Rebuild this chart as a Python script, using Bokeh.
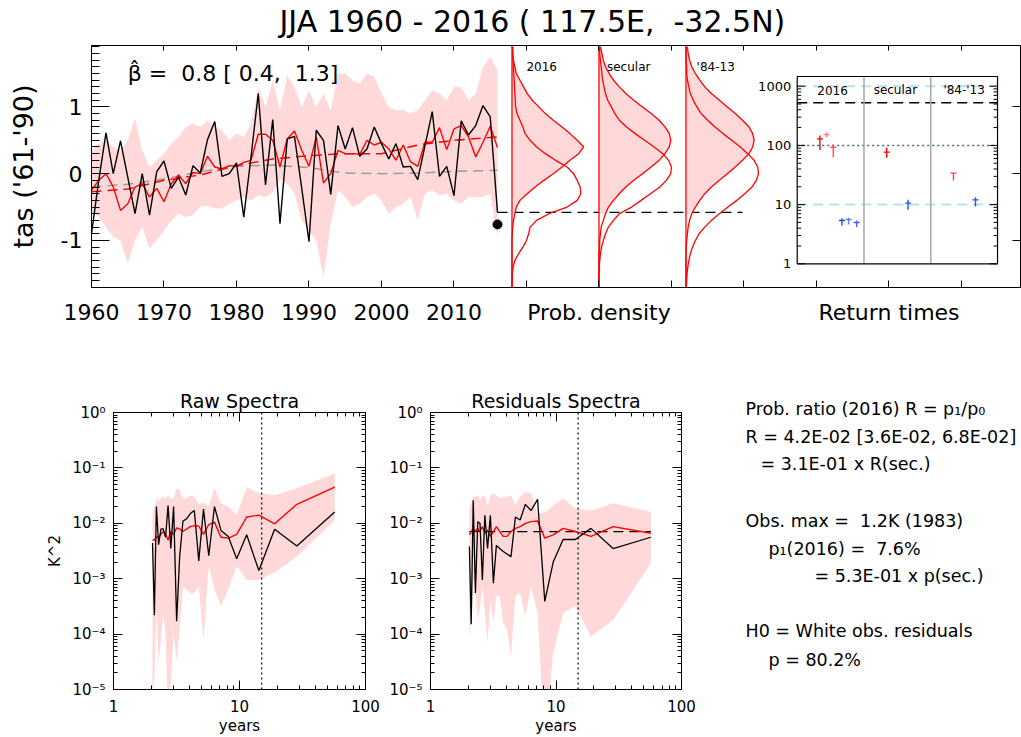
import numpy as np
from bokeh.plotting import figure
from bokeh.models import (Range1d, LinearAxis, LogAxis, FixedTicker, LogScale, Span, Title)
from bokeh.layouts import column, row
from bokeh.embed import file_html
from bokeh.resources import INLINE
from bokeh.core.properties import value

FONT = "DejaVu Sans"
PINK = "#ffd9d9"
RED = "#ff0000"
NB = "\u00a0"

# ---------------- data: time series ----------------
years = list(range(1960, 2017))
obs = [-0.9, -0.1, 0.61, 0.0, 0.49, -0.05, -0.6, 0.0, -0.62, 0.03,
       0.19, -0.22, -0.05, -0.32, 0.12, 0.01, 0.51, 0.78, -0.04, 0.0,
       0.16, -0.65, 0.25, 1.2, -0.17, 0.81, -0.75, 0.52, 0.56, -0.22,
       -1.02, 0.65, 0.5, -0.31, 0.72, 0.37, 0.69, 0.26, 0.37, 0.7,
       0.45, 0.22, 0.45, 0.1, 0.11, -0.09, 0.42, 0.93, -0.04, 0.11,
       -0.33, 0.79, 0.58, 0.72, 1.02, 0.85, -0.58]
model = [-0.25, -0.1, 0.0, -0.2, -0.55, -0.45, -0.2, -0.15, -0.35, -0.22,
         -0.42, -0.15, -0.02, -0.15, 0.02, 0.0, 0.26, 0.1, 0.07, 0.12,
         0.11, 0.17, 0.2, 0.59, 0.59, 0.5, 0.1, 0.52, 0.64, 0.35,
         0.11, 0.55, -0.14, 0.0, 0.35, 0.3, 0.3, 0.29, 0.5, 0.43,
         0.47, 0.37, 0.2, 0.43, 0.18, 0.11, 0.47, 0.47, 0.69, 0.36,
         0.67, 0.72, 0.55, 0.25, 0.47, 0.71, 0.39]
band_hi = [0.33, 0.45, 0.5, 0.4, 0.35, 0.5, 0.83, 0.35, 0.1, 0.2,
           0.3, 0.45, 0.55, 0.7, 0.75, 0.7, 0.8, 0.7, 0.65, 0.5,
           0.6, 0.55, 0.75, 1.3, 1.0, 1.4, 0.95, 1.47, 1.3, 1.0,
           1.25, 1.0, 1.2, 0.95, 1.5, 1.5, 1.4, 1.35, 1.5, 1.45,
           1.2, 1.0, 0.95, 0.95, 0.9, 0.95, 1.1, 1.25, 1.2, 1.1,
           1.3, 1.3, 1.1, 1.2, 1.6, 1.75, 1.55]
band_lo = [-0.55, -0.65, -0.8, -0.95, -1.0, -1.35, -1.0, -0.8, -1.12, -1.0,
           -0.85, -0.7, -0.6, -0.65, -0.62, -0.5, -0.48, -0.52, -0.52, -0.45,
           -0.4, -0.35, -0.4, -0.32, -0.35, -0.28, -0.1, -0.15, -0.3, -0.7,
           -0.85, -1.0, -1.55, -0.75, -0.25, -0.35, -0.5, -0.45, -0.35, -0.3,
           -0.4, -0.6, -0.5, -0.45, -0.35, -0.7, -0.3, -0.25, -0.33, -0.3,
           -0.4, -0.45, -0.35, -0.35, -0.35, -0.3, -0.95]
trend_years = [1960, 1965, 1970, 1975, 1980, 1985, 1990, 1995, 2000, 2005, 2010, 2016]
trend_red = [-0.27, -0.23, -0.1, -0.02, 0.12, 0.22, 0.27, 0.3, 0.3, 0.43, 0.5, 0.55]
trend_gray = [-0.2, -0.16, -0.08, 0.03, 0.11, 0.13, 0.09, 0.01, 0.0, 0.01, 0.035, 0.05]
threshold_2016 = -0.58
dot_2016 = -0.76

# ---------------- data: densities (width in years vs anomaly) ----------------
dens_levels = [-1.7, -1.6, -1.5, -1.4, -1.3, -1.2, -1.1, -1.0, -0.9, -0.8,
               -0.7, -0.6, -0.5, -0.4, -0.3, -0.2, -0.1, 0.0, 0.1, 0.2,
               0.3, 0.4, 0.5, 0.6, 0.7, 0.8, 0.9, 1.0, 1.1, 1.2,
               1.3, 1.4, 1.5, 1.6, 1.7, 1.8, 1.9]
d2016_now = [0, 0, 0, 0, 0, 0, 0, 0.0, 0.05, 0.1,
             0.2, 0.4, 0.6, 1.1, 2.1, 3.2, 4.4, 5.7, 6.9, 8.0,
             9.2, 9.9, 9.0, 8.0, 6.9, 5.7, 4.6, 3.7, 2.8, 2.1,
             1.6, 1.1, 0.6, 0.4, 0.2, 0.1, 0.1]
d2016_nat = [0, 0.05, 0.05, 0.15, 0.4, 0.9, 1.5, 2.0, 2.3, 2.5,
             3.4, 5.1, 7.6, 9.0, 9.5, 9.4, 9.0, 8.5, 7.6, 6.0,
             4.6, 3.4, 2.5, 1.8, 1.5, 1.1, 0.7, 0.5, 0.45, 0.4,
             0.35, 0.3, 0.25, 0.2, 0.15, 0.1, 0.05]
dsec_now = [0, 0, 0, 0, 0, 0.0, 0.1, 0.1, 0.2, 0.3,
            0.6, 0.9, 1.3, 2.0, 2.8, 3.7, 4.8, 6.0, 7.2, 8.3,
            9.1, 9.7, 9.9, 9.7, 9.1, 8.3, 7.2, 6.0, 4.8, 3.7,
            2.8, 2.0, 1.4, 0.9, 0.6, 0.4, 0.2]
dsec_nat = [0, 0, 0, 0.05, 0.1, 0.2, 0.35, 0.6, 0.9, 1.3,
            2.0, 2.8, 4.5, 5.8, 7.1, 8.4, 9.3, 9.9, 10.0, 9.6,
            8.8, 7.6, 6.3, 5.0, 3.8, 2.8, 2.2, 1.7, 1.2, 0.9,
            0.7, 0.5, 0.4, 0.3, 0.2, 0.1, 0.1]
d8413_now = [0, 0, 0, 0, 0, 0, 0.05, 0.1, 0.2, 0.3,
             0.5, 0.8, 1.3, 1.9, 2.6, 3.5, 4.6, 5.7, 6.8, 7.8,
             8.7, 9.2, 9.4, 9.2, 8.7, 7.8, 6.8, 5.7, 4.6, 3.5,
             2.6, 1.9, 1.3, 0.8, 0.5, 0.3, 0.2]
d8413_nat = [0.05, 0.1, 0.15, 0.25, 0.4, 0.6, 0.9, 1.3, 1.8, 2.6,
             3.5, 4.6, 5.8, 7.0, 8.1, 9.1, 9.7, 10.0, 9.9, 9.4,
             8.5, 7.5, 6.3, 5.1, 4.0, 3.0, 2.1, 1.5, 1.0, 0.6,
             0.4, 0.2, 0.1, 0.1, 0.0, 0.0, 0.0]
dens_labels = ["2016", "secular", "'84-13"]

# ---------------- data: return times ----------------
rt_labels = ["2016", "secular", "'84-'13"]
rt_red_x = [0.34, 0.44, 0.54, 1.34, 2.34]
rt_red_best = [129, 152, 93, 77, 34]
rt_red_lo = [84, 137, 63, 62, 25.5]
rt_red_hi = [147, 167, 104, 91, 34]
rt_red_col = ["#ff0000", "#ff7a7a", "#ff5050", "#ff0000", "#ff4040"]
rt_blue_x = [0.67, 0.77, 0.89, 1.66, 2.67]
rt_blue_best = [5.4, 5.6, 5.0, 10.6, 12.0]
rt_blue_lo = [4.4, 4.6, 4.2, 8.2, 9.3]
rt_blue_hi = [5.9, 6.0, 5.4, 12.1, 13.3]
rt_blue_col = ["#2050ff", "#6080ff", "#4060ff", "#2050ff", "#2050ff"]
rt_obs_line = 525
rt_ref_lines = [10, 1000]
rt_dot_line = 100

# ---------------- data: spectra ----------------
periods = [57.0, 28.5, 19.0, 14.25, 11.4, 9.5, 8.14, 7.13, 6.33, 5.7,
           5.18, 4.75, 4.38, 4.07, 3.8, 3.56, 3.35, 3.17, 3.0, 2.85,
           2.71, 2.59, 2.48, 2.38, 2.28, 2.19, 2.11, 2.04]
raw_obs = [1.6e-2, 3.9e-3, 7.8e-3, 1.4e-3, 6.2e-3, 2.3e-3, 5.8e-3, 7.4e-3, 2.0e-2, 2.6e-3,
           1.8e-2, 2.1e-3, 1.7e-2, 1.5e-2, 1.2e-2, 1.1e-2, 2.5e-3, 1.7e-4, 2.0e-2, 3.5e-3,
           2.1e-2, 5.6e-3, 7.9e-3, 7.9e-3, 4.1e-3, 2.0e-2, 2.2e-4, 4.4e-3]
raw_model = [4.5e-2, 2.2e-2, 9.8e-3, 1.4e-2, 1.3e-2, 6.3e-3, 5.4e-3, 5.6e-3, 1.05e-2, 9.5e-3,
             6.3e-3, 8.9e-3, 9.1e-3, 8.7e-3, 7.9e-3, 7.1e-3, 7.9e-3, 8.3e-3, 6.3e-3, 7.1e-3,
             5.0e-3, 6.3e-3, 7.1e-3, 6.3e-3, 5.6e-3, 5.6e-3, 5.0e-3, 5.0e-3]
raw_hi = [0.079, 0.043, 0.032, 0.035, 0.045, 0.014, 0.020, 0.023, 0.043, 0.020,
          0.024, 0.022, 0.030, 0.032, 0.028, 0.028, 0.040, 0.043, 0.028, 0.028,
          0.032, 0.028, 0.030, 0.028, 0.025, 0.028, 0.018, 0.016]
raw_lo = [1.15e-2, 2.5e-3, 1.3e-3, 9.5e-4, 9.5e-4, 1.7e-3, 6.3e-4, 3.2e-4, 6.3e-4, 1.7e-3,
          7.9e-5, 7.2e-4, 5.5e-4, 5.5e-4, 6.3e-4, 7.2e-4, 1.2e-4, 3.2e-5, 1.05e-4, 1.6e-5,
          3e-6, 1e-4, 2.5e-4, 8e-5, 3e-5, 2.5e-4, 1.5e-5, 8e-6]
res_obs = [5.6e-3, 3.5e-3, 8.1e-3, 5.1e-3, 5.1e-3, 2.0e-3, 3.9e-4, 2.7e-2, 1.7e-2, 2.2e-2,
           1.15e-2, 1.3e-2, 2.5e-3, 2.8e-3, 3.1e-3, 3.5e-3, 4.0e-3, 8.3e-4, 1.4e-2, 3.5e-3,
           1.4e-2, 9.5e-4, 1.0e-2, 1.07e-2, 5.5e-4, 2.6e-2, 1.5e-4, 3.8e-3]
res_model = [6.6e-3, 8.7e-3, 5.8e-3, 7.1e-3, 8.1e-3, 6.2e-3, 5.4e-3, 1.1e-2, 1.07e-2, 1.0e-2,
             8.7e-3, 8.1e-3, 7.1e-3, 5.8e-3, 5.8e-3, 7.1e-3, 8.7e-3, 7.1e-3, 5.8e-3, 7.6e-3,
             6.6e-3, 8.7e-3, 7.1e-3, 8.1e-3, 7.1e-3, 8.1e-3, 7.1e-3, 6.2e-3]
res_hi = [1.6e-2, 2.3e-2, 1.7e-2, 1.85e-2, 2.8e-2, 2.1e-2, 1.55e-2, 1.5e-2, 3.5e-2, 3.7e-2,
          3.0e-2, 2.1e-2, 3.2e-2, 3.0e-2, 3.0e-2, 2.8e-2, 3.2e-2, 3.5e-2, 3.2e-2, 2.0e-2,
          3.2e-2, 3.0e-2, 2.6e-2, 3.2e-2, 3.0e-2, 3.0e-2, 2.3e-2, 2.0e-2]
res_lo = [1.9e-3, 1.8e-4, 9e-5, 3.2e-4, 2.4e-4, 4.5e-5, 1e-6, 2.4e-4, 7.2e-4, 2.1e-4,
          5.5e-4, 4.8e-4, 4e-5, 1.2e-4, 1.6e-4, 4.8e-4, 4.8e-4, 1.6e-4, 4.0e-4, 7e-5,
          2.4e-4, 7.2e-4, 3.0e-4, 1.8e-4, 5.5e-4, 9.5e-4, 2.4e-4, 8e-5]
res_white = 7.1e-3
cutoff_period = 15

# ---------------- text ----------------
title_text = "JJA 1960 - 2016 ( 117.5E," + NB + " -32.5N)"
beta_text = "\u03b2\u0302 =" + NB + " 0.8 [ 0.4," + NB + " 1.3]"
info_head = "Prob. ratio (2016) R = p\u2081/p\u2080"
info_lines = ["R = 4.2E-02 [3.6E-02, 6.8E-02]",
              "= 3.1E-01 x R(sec.)",
              "Obs. max =" + NB + " 1.2K (1983)",
              "p\u2081(2016) =" + NB + " 7.6%",
              "= 5.3E-01 x p(sec.)",
              "H0 = White obs. residuals",
              "p = 80.2%"]
info_x = [745, 760, 745, 768, 814, 745, 768]
info_y = [437, 464, 521, 549, 576, 631, 660]


def blank(ticks):
    return {t: "" for t in ticks}


# =============== title strip ===============
tf = figure(width=1021, height=45, x_range=Range1d(91, 1021), y_range=Range1d(45, 0),
            x_axis_location=None, y_axis_location=None, output_backend="svg",
            toolbar_location=None, min_border_left=91, min_border_right=0,
            min_border_top=0, min_border_bottom=0)
tf.grid.visible = False
tf.outline_line_color = None
tf.text(x=[279], y=[21], text=[title_text], text_font=value(FONT), text_font_size="30px",
        text_align="left", text_baseline="middle", text_color="black")

# =============== top figure ===============
p = figure(width=1021, height=295, x_range=Range1d(1960, 2088.28), y_range=Range1d(-1.705, 1.92),
           x_axis_location=None, y_axis_location=None, output_backend="svg", toolbar_location=None,
           min_border_left=91, min_border_right=0, min_border_top=0, min_border_bottom=53)
p.grid.visible = False
p.outline_line_color = "black"
p.background_fill_color = "white"

xticks = [1960, 1970, 1980, 1990, 2000, 2010, 2020, 2030, 2040, 2050, 2060, 2070, 2080]
xt = FixedTicker(ticks=xticks)
over = {2020: "", 2030: "Prob. density", 2040: "", 2050: "", 2060: "", 2070: "Return times", 2080: ""}
xb = LinearAxis(ticker=xt, major_label_overrides=over, major_tick_in=7, major_tick_out=0,
                minor_tick_in=0, minor_tick_out=0, major_label_standoff=12,
                major_label_text_font=FONT, major_label_text_font_size="22px",
                major_label_text_color="black")
p.add_layout(xb, "below")
xa = LinearAxis(ticker=xt, major_label_overrides=blank(xticks), major_tick_in=5, major_tick_out=0,
                minor_tick_in=0, minor_tick_out=0, major_label_standoff=0,
                major_label_text_font_size="1px")
p.add_layout(xa, "above")
minor_y = [round(v, 1) for v in np.arange(-1.7, 1.95, 0.1)]
yl = LinearAxis(ticker=FixedTicker(ticks=[-1, 0, 1], minor_ticks=minor_y),
                major_label_overrides={-1: "-1", 0: "0", 1: "1"},
                major_tick_in=18, major_tick_out=0, minor_tick_in=8, minor_tick_out=0,
                major_label_standoff=9, major_label_text_font=FONT, major_label_text_font_size="22px",
                major_label_text_color="black",
                axis_label="tas ('61-'90)", axis_label_standoff=19, axis_label_text_font=FONT,
                axis_label_text_font_size="27px", axis_label_text_font_style="normal",
                axis_label_text_color="black")
p.add_layout(yl, "left")
yr = LinearAxis(ticker=FixedTicker(ticks=[-1, 0, 1]), major_label_overrides=blank([-1, 0, 1]),
                major_tick_in=9, major_tick_out=0, minor_tick_in=0, minor_tick_out=0,
                major_label_standoff=0, major_label_text_font_size="1px")
p.add_layout(yr, "right")

# time series
p.varea(x=years, y1=band_lo, y2=band_hi, fill_color=PINK)
p.line(trend_years, trend_gray, line_color="#9a9a9a", line_width=1.5, line_dash="10 6")
p.line(trend_years, trend_red, line_color=RED, line_width=1.5, line_dash="10 6")
p.line(years, model, line_color=RED, line_width=1.4)
p.line(years, obs, line_color="black", line_width=1.4)
p.scatter([years[-1]], [dot_2016], size=9, color="black")
p.line([years[-1], 2049.8], [threshold_2016, threshold_2016], line_color="black",
       line_width=1.4, line_dash="10 6")

p.text(x=[1965.0], y=[1.50], text=[beta_text], text_font=value(FONT), text_font_size="22px",
       text_baseline="middle", text_align="left", text_color="black")

# densities
bases = [2018, 2030, 2042]
for base, now, nat, lab in zip(bases, [d2016_now, dsec_now, d8413_now],
                               [d2016_nat, dsec_nat, d8413_nat], dens_labels):
    ys = [v for v in dens_levels if v >= threshold_2016 - 0.02]
    xs = [base + d for d, v in zip(now, dens_levels) if v >= threshold_2016 - 0.02]
    p.harea(y=ys, x1=[base] * len(ys), x2=xs, fill_color=PINK)
    p.line([base + d for d in now], dens_levels, line_color=RED, line_width=1.3)
    p.line([base + d for d in nat], dens_levels, line_color=RED, line_width=1.3)
    p.line([base, base], [-1.705, 1.92], line_color=RED, line_width=1.3)
    p.text(x=[base + 4.1], y=[1.6], text=[lab], text_font=value(FONT), text_font_size="12px",
           text_align="center", text_baseline="middle", text_color="black")

# return-time panel on its own scales
p.extra_x_ranges = {"rtx": Range1d(-10.569, 3.359)}
p.extra_y_ranges = {"rty": Range1d(0.398, 4867)}
p.extra_y_scales = {"rty": LogScale()}
RT = dict(x_range_name="rtx", y_range_name="rty")
top_rt = 1459
p.segment(x0=[0, 0], y0=rt_ref_lines, x1=[3, 3], y1=rt_ref_lines, line_color="#b5e3ee",
          line_width=2, line_dash="10 6", **RT)
p.segment(x0=[0], y0=[rt_dot_line], x1=[3], y1=[rt_dot_line], line_color="#4a6a70",
          line_width=1.5, line_dash="2 3", **RT)
p.segment(x0=[0], y0=[rt_obs_line], x1=[3], y1=[rt_obs_line], line_color="black",
          line_width=1.3, line_dash="10 6", **RT)
p.segment(x0=[1, 2], y0=[1, 1], x1=[1, 2], y1=[top_rt, top_rt], line_color="#a8a8a8",
          line_width=1.5, **RT)
p.quad(left=[0], right=[3], bottom=[1], top=[top_rt], fill_color=None, line_color="black",
       line_width=1.2, **RT)
tv, tl = [], []
for dec in [1, 10, 100]:
    for m in range(1, 10):
        tv.append(dec * m)
        tl.append(0.12 if m == 1 else 0.06)
tv.append(1000); tl.append(0.12)
p.segment(x0=[0] * len(tv), y0=tv, x1=tl, y1=tv, line_color="black", **RT)
p.segment(x0=[3] * len(tv), y0=tv, x1=[3 - t for t in tl], y1=tv, line_color="black", **RT)
p.text(x=[-0.09] * 4, y=[1, 10, 100, 1000], text=["1", "10", "100", "1000"], text_font=value(FONT),
       text_font_size="13px", text_align="right", text_baseline="middle", text_color="black", **RT)
p.text(x=[0.53, 1.47, 2.5], y=[846] * 3, text=rt_labels, text_font=value(FONT),
       text_font_size="12px", text_align="center", text_baseline="middle", text_color="black", **RT)
p.segment(x0=rt_red_x, y0=rt_red_lo, x1=rt_red_x, y1=rt_red_hi, line_color=rt_red_col, line_width=1.4, **RT)
p.segment(x0=[x - 0.045 for x in rt_red_x], y0=rt_red_best, x1=[x + 0.045 for x in rt_red_x],
          y1=rt_red_best, line_color=rt_red_col, line_width=1.4, **RT)
p.segment(x0=rt_blue_x, y0=rt_blue_lo, x1=rt_blue_x, y1=rt_blue_hi, line_color=rt_blue_col, line_width=1.4, **RT)
p.segment(x0=[x - 0.045 for x in rt_blue_x], y0=rt_blue_best, x1=[x + 0.045 for x in rt_blue_x],
          y1=rt_blue_best, line_color=rt_blue_col, line_width=1.4, **RT)

# =============== spectra figures ===============
ROW_H = 397
MB_TOP = 72
MB_BOT = 47


def spec_fig(title, width, mbl, mbr, ylabel, obs_s, mod_s, lo_s, hi_s, white=None):
    f = figure(width=width, height=ROW_H, x_axis_type="log", y_axis_type="log",
               x_range=Range1d(1, 100), y_range=Range1d(1e-5, 1), title=title,
               x_axis_location=None, y_axis_location=None,
               output_backend="svg", toolbar_location=None, min_border_left=mbl,
               min_border_right=mbr, min_border_top=MB_TOP, min_border_bottom=MB_BOT)
    f.grid.visible = False
    f.outline_line_color = "black"
    f.title.text_font = FONT
    f.title.text_font_size = "19px"
    f.title.text_font_style = "normal"
    f.title.align = "center"
    f.title.standoff = 2
    f.title.text_color = "black"
    xticks_s = [1, 10, 100]
    yticks_s = [1e-5, 1e-4, 1e-3, 1e-2, 1e-1, 1]
    xminor = [2, 3, 4, 5, 6, 7, 8, 9, 20, 30, 40, 50, 60, 70, 80, 90]
    yminor = []
    for e in [1e-5, 1e-4, 1e-3, 1e-2, 1e-1]:
        yminor += [e * m for m in range(2, 10)]
    xtk = FixedTicker(ticks=xticks_s, minor_ticks=xminor)
    ytk = FixedTicker(ticks=yticks_s, minor_ticks=yminor)
    common = dict(major_tick_in=9, major_tick_out=0, minor_tick_in=4, minor_tick_out=0,
                  major_label_text_font=FONT, major_label_text_font_size="15px",
                  major_label_text_color="black", axis_label_text_font=FONT,
                  axis_label_text_font_size="15px", axis_label_text_font_style="normal",
                  axis_label_text_color="black")
    ax = LogAxis(ticker=xtk, major_label_overrides={1: "1", 10: "10", 100: "100"},
                 major_label_standoff=10, axis_label="years", axis_label_standoff=2, **common)
    f.add_layout(ax, "below")
    yover = {1e-5: "10\u207b\u2075", 1e-4: "10\u207b\u2074", 1e-3: "10\u207b\u00b3",
             1e-2: "10\u207b\u00b2", 1e-1: "10\u207b\u00b9", 1: "10\u2070"}
    ay = LogAxis(ticker=ytk, major_label_overrides=yover, major_label_standoff=8, **common)
    if ylabel:
        ay.axis_label = ylabel
        ay.axis_label_standoff = 5
    f.add_layout(ay, "left")
    f.add_layout(LogAxis(ticker=xtk, major_label_overrides=blank(xticks_s), major_tick_in=9,
                         major_tick_out=0, minor_tick_in=4, minor_tick_out=0,
                         major_label_standoff=0, major_label_text_font_size="1px"), "above")
    f.add_layout(LogAxis(ticker=ytk, major_label_overrides=blank(yticks_s), major_tick_in=9,
                         major_tick_out=0, minor_tick_in=4, minor_tick_out=0,
                         major_label_standoff=0, major_label_text_font_size="1px"), "right")
    f.varea(x=periods, y1=lo_s, y2=hi_s, fill_color=PINK)
    f.add_layout(Span(location=cutoff_period, dimension="height", line_color="black",
                      line_dash="2 3", line_width=1.2))
    if white is not None:
        f.line([periods[-1], periods[0]], [white, white], line_color="black", line_dash="10 6",
               line_width=1.2)
    f.line(periods, mod_s, line_color=RED, line_width=1.4)
    f.line(periods, obs_s, line_color="black", line_width=1.3)
    return f


f1 = spec_fig("Raw Spectra", 386, 113, 21, "K^2", raw_obs, raw_model, raw_lo, raw_hi)
f2 = spec_fig("Residuals Spectra", 334, 42, 39, None, res_obs, res_model, res_lo, res_hi, res_white)

# =============== text panel (frame aligned with the spectra frames) ===============
t = figure(width=301, height=ROW_H, x_range=Range1d(720, 1021), y_range=Range1d(690, 412),
           x_axis_location=None, y_axis_location=None, output_backend="svg",
           toolbar_location=None, min_border_left=0, min_border_right=0,
           min_border_top=MB_TOP, min_border_bottom=MB_BOT)
t.grid.visible = False
t.outline_line_color = None
head = Title(text=info_head, align="left", offset=25, text_font=FONT, text_font_size="17.5px",
             text_font_style="normal", text_color="black", vertical_align="bottom")
try:
    head.standoff = -13
except Exception:
    head.standoff = 0
t.add_layout(head, "above")
t.text(x=info_x, y=info_y, text=info_lines, text_font=value(FONT), text_font_size="17.5px",
       text_align="left", text_baseline="middle", text_color="black")

layout = column(tf, p, row(f1, f2, t))
open("out.html", "w").write(file_html(layout, INLINE))
